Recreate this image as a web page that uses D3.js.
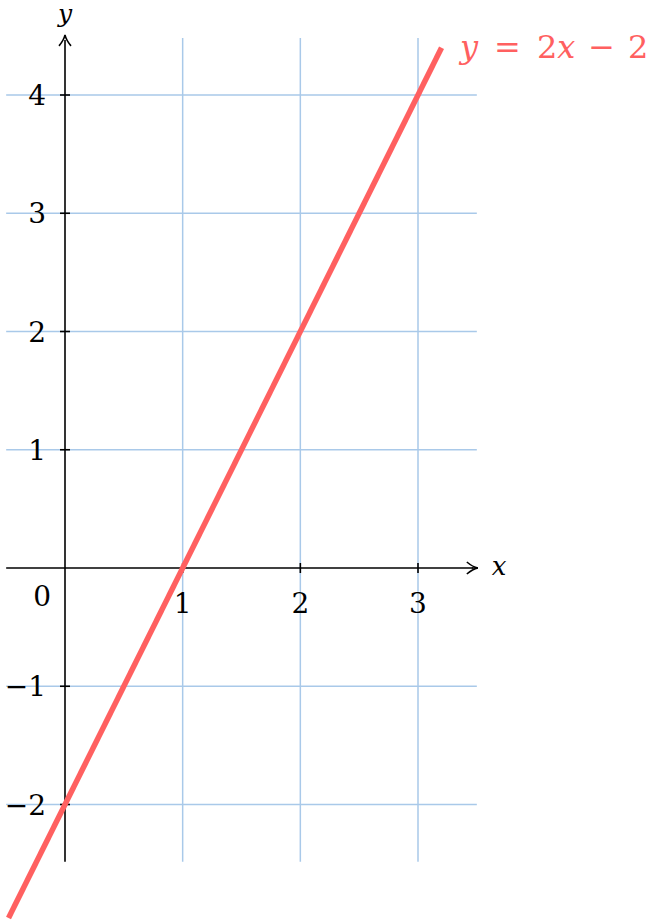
<!DOCTYPE html>
<html>
<head>
<meta charset="utf-8">
<script src="https://cdn.jsdelivr.net/npm/d3@7"></script>
<style>
  body { margin: 0; background: #fff; }
</style>
</head>
<body>
<script>
// data
const xTicks = [1, 2, 3];
const yTicks = [-2, -1, 1, 2, 3, 4];
const xRange = [-0.5, 3.5];
const yRange = [-2.5, 4.5];
const lineXs = [-0.48, 3.2];
const f = x => 2 * x - 2;

const serif = "DejaVu Serif";
const width = 652, height = 924;
const svg = d3.select("body").append("svg")
    .attr("width", width)
    .attr("height", height)
    .style("font-family", serif);

const x = d3.scaleLinear().domain([0, 3]).range([65, 418]);
const y = d3.scaleLinear().domain([0, 4]).range([568, 95]);

const grid = svg.append("g").attr("stroke", "#a9c9e9").attr("stroke-width", 1.5);
grid.selectAll("line.v").data(xTicks).enter().append("line")
    .attr("x1", d => x(d)).attr("x2", d => x(d))
    .attr("y1", y(yRange[0]) - 2).attr("y2", y(yRange[1]) + 2);
grid.selectAll("line.h").data(yTicks).enter().append("line")
    .attr("y1", d => y(d)).attr("y2", d => y(d))
    .attr("x1", x(xRange[0])).attr("x2", x(xRange[1]));

// axes
const axes = svg.append("g").attr("stroke", "#000").attr("stroke-width", 1.6);
axes.append("line")
    .attr("x1", x(xRange[0])).attr("x2", x(xRange[1]) - 4)
    .attr("y1", y(0)).attr("y2", y(0));
axes.append("line")
    .attr("x1", x(0)).attr("x2", x(0))
    .attr("y1", y(yRange[0]) - 2).attr("y2", y(yRange[1]) + 4);

// arrow heads
const ax = x(xRange[1]) + 1, ay = y(0);
svg.append("path")
    .attr("d", `M${ax - 11},${ay - 6} Q${ax - 5},${ay - 1} ${ax},${ay} Q${ax - 5},${ay + 1} ${ax - 11},${ay + 6}`)
    .attr("fill", "none").attr("stroke", "#000").attr("stroke-width", 1.6);
axes.append("line").attr("x1", ax - 6).attr("x2", ax).attr("y1", ay).attr("y2", ay);
const bx = x(0), by = y(yRange[1]) - 1;
svg.append("path")
    .attr("d", `M${bx - 6},${by + 11} Q${bx - 1},${by + 5} ${bx},${by} Q${bx + 1},${by + 5} ${bx + 6},${by + 11}`)
    .attr("fill", "none").attr("stroke", "#000").attr("stroke-width", 1.6);

// tick marks
axes.selectAll("line.xt").data(xTicks).enter().append("line")
    .attr("x1", d => x(d)).attr("x2", d => x(d))
    .attr("y1", y(0) - 5).attr("y2", y(0) + 5);
axes.selectAll("line.yt").data(yTicks).enter().append("line")
    .attr("y1", d => y(d)).attr("y2", d => y(d))
    .attr("x1", x(0) - 5).attr("x2", x(0) + 5);

// tick labels
const fmt = d => d < 0 ? "\u2212" + Math.abs(d) : String(d);
svg.selectAll("text.xl").data(xTicks).enter().append("text")
    .attr("x", d => x(d)).attr("y", y(0) + 45)
    .attr("text-anchor", "middle")
    .attr("font-size", 28)
    .text(fmt);
svg.selectAll("text.yl").data(yTicks).enter().append("text")
    .attr("x", x(0) - 19).attr("y", d => y(d) + 10)
    .attr("text-anchor", "end")
    .attr("font-size", 28)
    .text(fmt);
svg.append("text")
    .attr("x", x(0) - 14).attr("y", y(0) + 38)
    .attr("text-anchor", "end")
    .attr("font-size", 28)
    .text("0");

// axis names
svg.append("text")
    .attr("x", x(xRange[1]) + 15).attr("y", y(0) + 7)
    .attr("font-size", 26).attr("font-style", "italic")
    .text("x");
svg.append("text")
    .attr("x", x(0)).attr("y", 22)
    .attr("text-anchor", "middle")
    .attr("font-size", 25).attr("font-style", "italic")
    .text("y");

// the function
svg.append("path")
    .datum(lineXs)
    .attr("d", d3.line().x(d => x(d)).y(d => y(f(d))))
    .attr("stroke", "#ff6060").attr("stroke-width", 5.5)
    .attr("fill", "none");

const lab = svg.append("text")
    .attr("x", 460).attr("y", 58)
    .attr("font-size", 32)
    .attr("fill", "#ff6060");
lab.append("tspan").attr("font-style", "italic").text("y");
lab.append("tspan").attr("dx", 16).text("=");
lab.append("tspan").attr("dx", 16).text("2");
lab.append("tspan").attr("font-style", "italic").text("x");
lab.append("tspan").attr("dx", 13).text("\u2212");
lab.append("tspan").attr("dx", 13).text("2");
</script>
</body>
</html>
